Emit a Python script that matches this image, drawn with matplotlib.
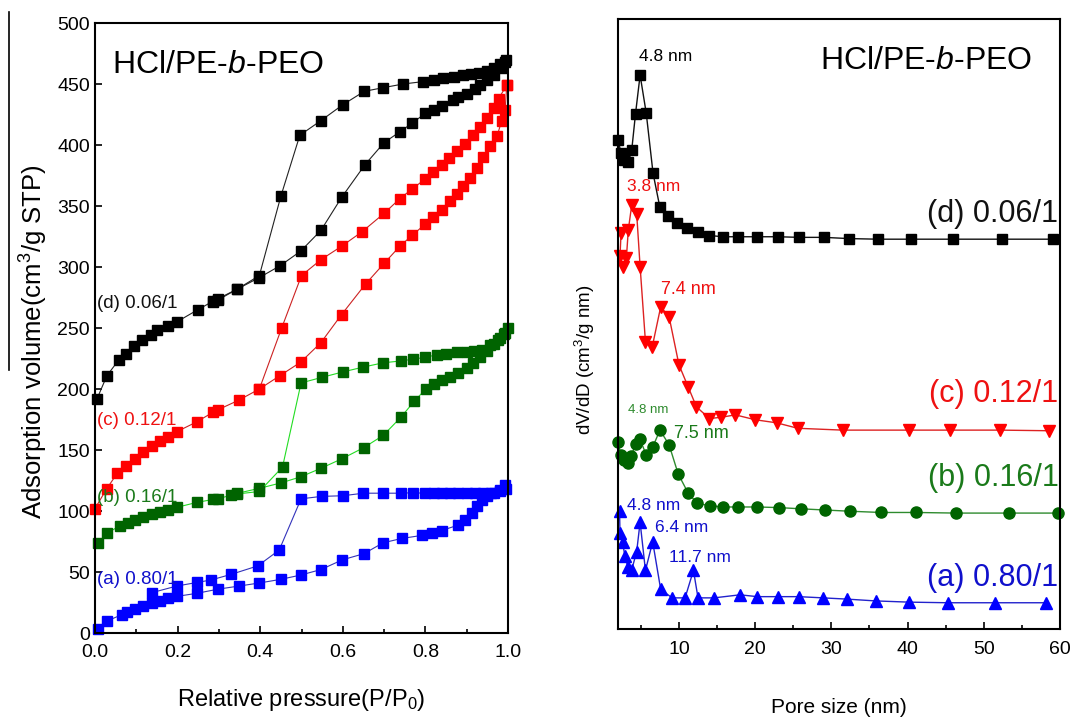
import matplotlib
matplotlib.use("Agg")
import matplotlib.pyplot as plt
from matplotlib.lines import Line2D

plt.rcParams['font.family'] = ['Liberation Sans', 'DejaVu Sans']
plt.rcParams['mathtext.fontset'] = 'custom'
plt.rcParams['mathtext.rm'] = 'Liberation Sans'
plt.rcParams['mathtext.it'] = 'Liberation Sans:italic'

# ---- N2 isotherms (left) ----
d_ads_p = [0.005, 0.029, 0.058, 0.075, 0.095, 0.115, 0.135, 0.149, 0.177, 0.198, 0.249, 0.286, 0.298,
           0.345, 0.396, 0.448, 0.498, 0.547, 0.597, 0.654, 0.700, 0.739, 0.768, 0.800, 0.82, 0.84, 0.868,
           0.88, 0.90, 0.92, 0.932, 0.95, 0.965, 0.985, 0.993]
d_ads_v = [192, 211, 224, 229, 235, 240, 244, 248, 252, 255, 265, 272, 273,
           282, 291, 301, 313, 330, 357, 384, 402, 411, 418, 426, 429, 432, 437,
           439, 442, 446, 449, 453, 457, 463, 468]
d_des_p = [0.995, 0.98, 0.965, 0.95, 0.93, 0.91, 0.89, 0.87, 0.843, 0.82, 0.795, 0.746, 0.698, 0.652,
           0.60, 0.547, 0.496, 0.450, 0.398, 0.345, 0.298, 0.286]
d_des_v = [470, 466, 463, 461, 459, 458, 457, 456, 455, 453, 452, 450, 447, 444,
           433, 420, 408, 358, 293, 282, 274, 271]

c_ads_p = [0.0, 0.028, 0.054, 0.075, 0.097, 0.117, 0.139, 0.157, 0.177, 0.198, 0.246, 0.286, 0.298,
           0.349, 0.398, 0.448, 0.498, 0.547, 0.597, 0.655, 0.70, 0.738, 0.768, 0.799, 0.819, 0.839,
           0.86, 0.876, 0.892, 0.908, 0.924, 0.94, 0.956, 0.973, 0.985, 0.993, 0.997]
c_ads_v = [102, 118, 131, 137, 143, 148, 153, 157, 161, 165, 173, 181, 183,
           191, 200, 211, 222, 238, 261, 286, 303, 317, 326, 335, 341, 347,
           354, 360, 366, 373, 381, 390, 399, 407, 420, 429, 449]
c_des_p = [0.997, 0.977, 0.965, 0.948, 0.932, 0.916, 0.896, 0.876, 0.856, 0.839, 0.819, 0.799, 0.768,
           0.738, 0.70, 0.647, 0.597, 0.547, 0.50, 0.452, 0.398]
c_des_v = [449, 438, 430, 422, 415, 408, 401, 395, 389, 384, 378, 372, 364,
           356, 344, 329, 317, 306, 293, 250, 200]

b_ads_p = [0.008, 0.030, 0.061, 0.079, 0.097, 0.117, 0.137, 0.157, 0.177, 0.198, 0.246, 0.286, 0.298,
           0.345, 0.398, 0.45, 0.498, 0.547, 0.599, 0.651, 0.698, 0.741, 0.773, 0.801, 0.82, 0.839,
           0.86, 0.88, 0.90, 0.916, 0.932, 0.948, 0.965, 0.98, 0.993]
b_ads_v = [73.5, 82, 88, 90, 93, 95, 97.5, 99, 101, 103, 107, 109.5, 110,
           114.5, 118.6, 123, 128, 135, 143, 152, 162, 177, 190, 200, 204, 207,
           210, 213, 217, 221, 226, 231, 237, 242, 246]
b_des_p = [1.0, 0.99, 0.975, 0.956, 0.936, 0.918, 0.90, 0.876, 0.85, 0.827, 0.80, 0.771, 0.741, 0.698,
           0.65, 0.60, 0.549, 0.499, 0.454, 0.398, 0.345, 0.33]
b_des_v = [250, 245, 240, 236, 232, 231, 230.5, 230, 229, 228, 226, 224.5, 223, 221.5,
           218, 214, 209.5, 205, 136, 116, 114, 113]

a_ads_p = [0.008, 0.030, 0.065, 0.077, 0.097, 0.117, 0.137, 0.157, 0.177, 0.198, 0.246, 0.299, 0.349,
           0.398, 0.45, 0.498, 0.547, 0.599, 0.651, 0.698, 0.743, 0.791, 0.815, 0.839, 0.88, 0.896,
           0.912, 0.924, 0.936, 0.948, 0.965, 0.98, 0.993]
a_ads_v = [3, 10, 15, 17, 19.5, 22, 24.5, 26.5, 28.4, 30, 32.5, 36, 38.5,
           41, 44, 47.5, 52, 60, 65, 74, 77.5, 80, 82, 84, 88.5, 93,
           98, 104, 109, 112, 115, 117, 121]
a_des_p = [0.995, 0.98, 0.96, 0.94, 0.92, 0.90, 0.88, 0.86, 0.84, 0.82, 0.80, 0.771, 0.741, 0.698,
           0.65, 0.60, 0.549, 0.499, 0.446, 0.394, 0.329, 0.28, 0.248, 0.198, 0.137]
a_des_v = [118, 116, 115, 115, 114.5, 114.5, 114.5, 114.5, 114.5, 114.5, 114.5, 115, 114.6, 114.6,
           114.6, 112.5, 112, 110, 68, 55, 48, 43.4, 41.5, 38.5, 33]

# ---- pore size distributions (right, arbitrary offset units) ----
d_psd_x = [2.0, 2.4, 2.8, 3.35, 3.8, 4.3, 4.9, 5.7, 6.6, 7.5, 8.6, 9.8, 11.0, 12.5, 14.0, 15.8, 17.8,
           20.2, 23.0, 25.8, 29.0, 32.3, 36.1, 40.5, 45.9, 52.4, 59.1]
d_psd_y = [80.2, 78, 76.9, 76.6, 78.5, 84.5, 90.8, 84.6, 74.7, 69.1, 67.7, 66.6, 65.8, 65.0, 64.5, 64.3,
           64.3, 64.3, 64.3, 64.2, 64.2, 64.0, 63.9, 63.9, 63.9, 63.9, 63.9]
c_psd_x = [2.4, 2.26, 2.7, 3.1, 3.35, 3.8, 4.45, 4.9, 5.6, 6.5, 7.6, 8.7, 10.0, 11.2, 12.3, 14.0, 15.5,
           17.4, 20.0, 22.8, 25.6, 31.5, 40.2, 45.6, 52.1, 58.5]
c_psd_y = [64.9, 61.1, 59.4, 60.8, 65.4, 69.5, 68.1, 59.4, 47.1, 46.3, 52.8, 51.2, 43.3, 39.7, 36.4,
           34.5, 34.7, 35.1, 34.3, 33.8, 32.9, 32.6, 32.6, 32.6, 32.6, 32.5]
b_psd_x = [2.0, 2.35, 2.8, 3.3, 3.7, 4.4, 4.9, 5.7, 6.55, 7.5, 8.7, 9.9, 11.2, 12.4, 14.1, 15.8, 17.8,
           20.3, 23.1, 26.0, 29.2, 32.5, 36.5, 41.1, 46.4, 53.3, 59.7]
b_psd_y = [30.7, 28.5, 27.7, 27.2, 28.4, 30.4, 31.1, 28.5, 29.8, 32.6, 30.2, 25.4, 22.3, 20.6, 20.2,
           20.0, 20.0, 20.0, 19.9, 19.7, 19.5, 19.3, 19.1, 19.1, 19.0, 19.0, 19.0]
a_psd_x = [2.2, 2.26, 2.6, 2.9, 3.3, 3.8, 4.45, 4.9, 5.6, 6.55, 7.6, 9.1, 10.8, 11.9, 12.5, 14.6, 18.0,
           20.3, 23.0, 25.7, 28.9, 32.0, 35.8, 40.2, 45.3, 51.5, 58.2]
a_psd_y = [19.4, 15.7, 14.3, 11.9, 10.2, 9.7, 12.7, 17.5, 9.6, 14.3, 6.5, 5.1, 5.1, 9.6, 5.1, 5.1, 5.6,
           5.3, 5.3, 5.3, 5.1, 4.9, 4.6, 4.4, 4.3, 4.3, 4.3]

sample_labels = ['(a) 0.80/1', '(b) 0.16/1', '(c) 0.12/1', '(d) 0.06/1']
title_text = 'HCl/PE-$\\mathit{b}$-PEO'

BLACK = '#000000'
RED = '#ff0000'
GREEN = '#006400'
GREEN_LINE = '#22dd22'
BLUE = '#0000ff'
txt_colors = ['#1010cc', '#1a7a1a', '#ee1111', '#111111']

fig = plt.figure(figsize=(10.72, 7.19), dpi=100)
ax1 = fig.add_axes([0.0886, 0.1196, 0.3853, 0.8484])
ax2 = fig.add_axes([0.5765, 0.1252, 0.4123, 0.8484])

# left panel: isotherms
iso = [
    (a_ads_p, a_ads_v, a_des_p, a_des_v, BLUE, '#3333bb'),
    (b_ads_p, b_ads_v, b_des_p, b_des_v, GREEN, GREEN_LINE),
    (c_ads_p, c_ads_v, c_des_p, c_des_v, RED, '#cc2222'),
    (d_ads_p, d_ads_v, d_des_p, d_des_v, BLACK, '#222222'),
]
for ap, av, dp, dv, mc, lc in iso:
    for xs, ys in ((ap, av), (dp, dv)):
        ax1.plot(xs, ys, '-', color=lc, lw=0.8, marker='s', ms=7,
                 mfc=mc, mec=mc, clip_on=False)

ax1.set_xlim(0, 1.0)
ax1.set_ylim(0, 500)
ax1.set_xticks([0.0, 0.2, 0.4, 0.6, 0.8, 1.0])
ax1.set_xticks([0.1, 0.3, 0.5, 0.7, 0.9], minor=True)
ax1.set_yticks(range(0, 501, 50))
ax1.tick_params(direction='in', labelsize=14, length=5, width=1.2)
ax1.tick_params(which='minor', direction='in', length=3, width=1.2)
ax1.tick_params(axis='x', pad=8)
ax1.set_xlabel('Relative pressure(P/P$_0$)', fontsize=17)
ax1.set_ylabel('Adsorption volume(cm$^3$/g STP)', fontsize=18.5)
ax1.xaxis.set_label_coords(0.5, -0.088)
ax1.yaxis.set_label_coords(-0.11, 0.477)
for s in ax1.spines.values():
    s.set_linewidth(1.5)

ax1.text(0.04, 0.955, title_text, transform=ax1.transAxes, fontsize=23, va='top', ha='left')
left_pos = [(0.005, 44), (0.005, 111), (0.005, 174), (0.005, 270)]
for (x, y), lab, col in zip(left_pos, sample_labels, txt_colors):
    ax1.text(x, y, lab, color=col, fontsize=13.5, va='center', ha='left')

# right panel: pore size distributions
psd = [
    (a_psd_x, a_psd_y, '^', BLUE, '#2222cc', 9),
    (b_psd_x, b_psd_y, 'o', GREEN, '#2e8b2e', 8),
    (c_psd_x, c_psd_y, 'v', RED, '#dd2222', 9),
    (d_psd_x, d_psd_y, 's', BLACK, '#111111', 7),
]
for xs, ys, mk, mc, lc, ms in psd:
    ax2.plot(xs, ys, '-', color=lc, lw=1.0, marker=mk, ms=ms, mfc=mc, mec=mc, clip_on=False)

ax2.set_xlim(2, 60)
ax2.set_ylim(0, 100)
ax2.set_xticks([10, 20, 30, 40, 50, 60])
ax2.set_xticks([5, 15, 25, 35, 45, 55], minor=True)
ax2.set_yticks([])
ax2.tick_params(direction='in', labelsize=14, length=5, width=1.2, pad=9)
ax2.tick_params(which='minor', direction='in', length=3, width=1.2)
ax2.set_xlabel('Pore size (nm)', fontsize=15)
ax2.set_ylabel('dV/dD (cm$^3$/g nm)', fontsize=13.5)
ax2.xaxis.set_label_coords(0.5, -0.113)
ax2.yaxis.set_label_coords(-0.048, 0.441)
for s in ax2.spines.values():
    s.set_linewidth(1.5)

ax2.text(0.937, 0.955, title_text, transform=ax2.transAxes, fontsize=23, va='top', ha='right')
right_pos = [(59.8, 8.4), (59.8, 24.8), (59.8, 38.6), (59.8, 68.0)]
for (x, y), lab, col in zip(right_pos, sample_labels, txt_colors):
    ax2.text(x, y, lab, color=col, fontsize=22, va='center', ha='right')

peak_notes = [
    ('4.8 nm', 8.3, 93.8, BLACK, 12.5),
    ('3.8 nm', 6.7, 72.5, '#ee1111', 12.5),
    ('7.4 nm', 11.2, 55.7, '#ee1111', 13),
    ('4.8 nm', 5.9, 35.9, '#2e8b2e', 9.5),
    ('7.5 nm', 13.0, 32.1, '#1a7a1a', 13),
    ('4.8 nm', 6.7, 20.2, '#1010cc', 12.5),
    ('6.4 nm', 10.3, 16.6, '#1010cc', 12.5),
    ('11.7 nm', 12.8, 11.8, '#1010cc', 12.5),
]
for t, x, y, col, fs in peak_notes:
    ax2.text(x, y, t, color=col, fontsize=fs, ha='center', va='center')

# stray vertical rule at the far left of the original figure
fig.add_artist(Line2D([9 / 1072, 9 / 1072], [1 - 12 / 719, 1 - 370 / 719], color='black', lw=1.2))

fig.savefig('out.png', dpi=100)
